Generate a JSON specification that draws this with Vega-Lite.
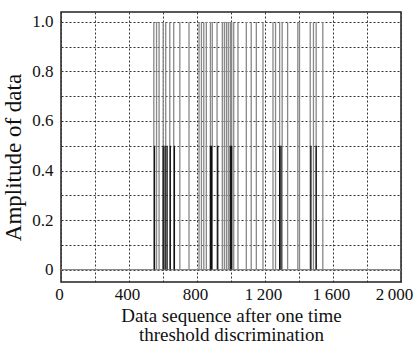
{
  "$schema": "https://vega.github.io/schema/vega-lite/v6.json",
  "width": 340,
  "height": 270,
  "autosize": {"type": "none"},
  "padding": {"left": 61, "top": 12, "right": 14, "bottom": 64},
  "config": {
    "font": "Liberation Serif",
    "view": {"stroke": "#222", "strokeWidth": 1.5},
    "axis": {
      "labelFont": "Liberation Serif",
      "titleFont": "Liberation Serif",
      "labelFontSize": 17,
      "titleFontSize": 19,
      "titleFontWeight": "normal",
      "labelColor": "#111",
      "titleColor": "#111",
      "gridColor": "#333",
      "gridDash": [2, 2],
      "gridWidth": 1,
      "gridOpacity": 1,
      "domain": false,
      "ticks": false
    }
  },
  "datasets": {
    "spikes": [
      {"x": 546, "amp": 1.0}, {"x": 562, "amp": 1.0}, {"x": 577, "amp": 1.0},
      {"x": 601, "amp": 1.0}, {"x": 616, "amp": 1.0}, {"x": 640, "amp": 1.0},
      {"x": 663, "amp": 1.0}, {"x": 699, "amp": 1.0}, {"x": 753, "amp": 1.0},
      {"x": 812, "amp": 1.0}, {"x": 826, "amp": 1.0}, {"x": 840, "amp": 1.0},
      {"x": 855, "amp": 1.0}, {"x": 879, "amp": 1.0}, {"x": 890, "amp": 1.0},
      {"x": 918, "amp": 1.0}, {"x": 949, "amp": 1.0}, {"x": 961, "amp": 1.0},
      {"x": 973, "amp": 1.0}, {"x": 984, "amp": 1.0}, {"x": 996, "amp": 1.0},
      {"x": 1004, "amp": 1.0}, {"x": 1016, "amp": 1.0}, {"x": 1041, "amp": 1.0},
      {"x": 1090, "amp": 1.0}, {"x": 1119, "amp": 1.0}, {"x": 1149, "amp": 1.0},
      {"x": 1188, "amp": 1.0}, {"x": 1247, "amp": 1.0}, {"x": 1262, "amp": 1.0},
      {"x": 1286, "amp": 1.0}, {"x": 1301, "amp": 1.0}, {"x": 1333, "amp": 1.0},
      {"x": 1393, "amp": 1.0}, {"x": 1403, "amp": 1.0}, {"x": 1466, "amp": 1.0},
      {"x": 1485, "amp": 1.0}, {"x": 1501, "amp": 1.0}, {"x": 1540, "amp": 1.0},
      {"x": 550, "amp": 0.5}, {"x": 601, "amp": 0.5}, {"x": 612, "amp": 0.5},
      {"x": 624, "amp": 0.5}, {"x": 643, "amp": 0.5}, {"x": 667, "amp": 0.5},
      {"x": 879, "amp": 0.5}, {"x": 886, "amp": 0.5}, {"x": 922, "amp": 0.5},
      {"x": 996, "amp": 0.5}, {"x": 1004, "amp": 0.5}, {"x": 1286, "amp": 0.5},
      {"x": 1294, "amp": 0.5}, {"x": 1470, "amp": 0.5}, {"x": 1501, "amp": 0.5}
    ],
    "base": [{"x": 0, "amp": 0}, {"x": 2000, "amp": 0}]
  },
  "encoding": {
    "x": {
      "field": "x", "type": "quantitative",
      "scale": {"domain": [0, 2000], "nice": false},
      "axis": {
        "values": [0, 200, 400, 600, 800, 1000, 1200, 1400, 1600, 1800, 2000],
        "labelExpr": "datum.value % 400 == 0 ? (datum.value >= 1000 ? floor(datum.value/1000) + '\u2009' + substring(toString(datum.value), 1) : toString(datum.value)) : ''",
        "labelPadding": 4,
        "labelFlush": false,
        "labelOverlap": false,
        "labelOffset": {"condition": {"test": "datum.value == 2000", "value": -7}, "value": -2},
        "title": ["Data sequence after one time", "threshold discrimination"],
        "titlePadding": 4,
        "titleLineHeight": 19
      }
    },
    "y": {
      "field": "amp", "type": "quantitative",
      "scale": {"domain": [-0.05, 1.04], "nice": false, "zero": false},
      "axis": {
        "values": [0, 0.1, 0.2, 0.3, 0.4, 0.5, 0.6, 0.7, 0.8, 0.9, 1.0],
        "labelExpr": "datum.value == 0 ? '0' : (round(datum.value*10) % 2 == 0 ? format(datum.value, '.1f') : '')",
        "labelPadding": 8,
        "labelFlush": false,
        "labelOverlap": false,
        "title": "Amplitude of data",
        "titleFontSize": 23,
        "titlePadding": 6,
        "titleY": 145
      }
    }
  },
  "layer": [
    {
      "data": {"name": "base"},
      "mark": {"type": "line", "color": "#888", "strokeWidth": 1.3}
    },
    {
      "data": {"name": "spikes"},
      "mark": {"type": "rule", "strokeWidth": 1.3},
      "encoding": {
        "y2": {"datum": 0},
        "color": {
          "field": "amp", "type": "nominal",
          "scale": {"domain": [0.5, 1.0], "range": ["#111", "#888"]},
          "legend": null
        }
      }
    }
  ]
}
